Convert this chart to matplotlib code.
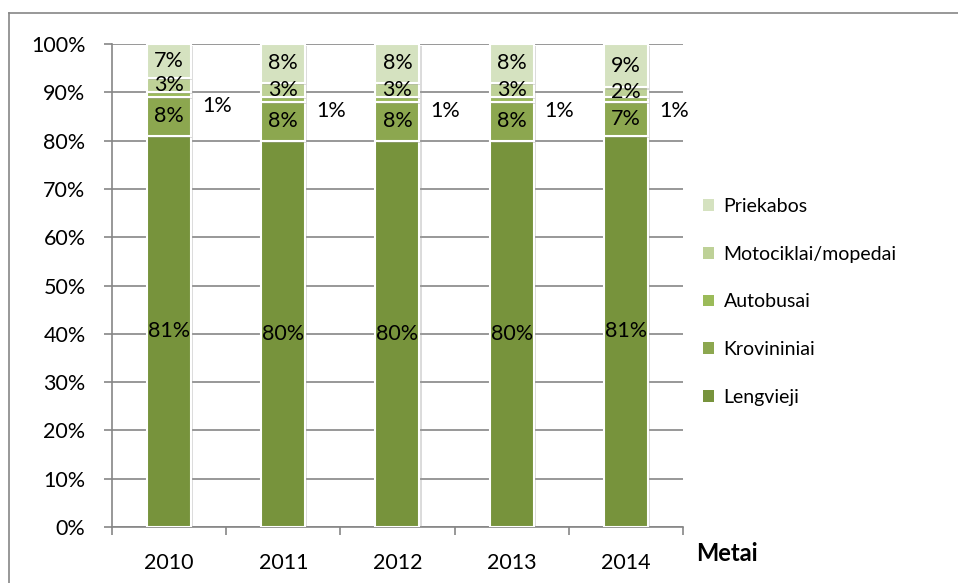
import numpy as np
import matplotlib
matplotlib.use("Agg")
import matplotlib.pyplot as plt
from matplotlib.lines import Line2D
import matplotlib.patheffects as pe

plt.rcParams['font.family'] = ['Lato', 'DejaVu Sans']

# === DUOMENYS ===
metai = ["2010", "2011", "2012", "2013", "2014"]
lengvieji = [81, 80, 80, 80, 81]
krovininiai = [8, 8, 8, 8, 7]
autobusai = [1, 1, 1, 1, 1]
motociklai = [3, 3, 3, 3, 2]
priekabos = [7, 8, 8, 8, 9]

serijos = ["Lengvieji", "Krovininiai", "Autobusai", "Motociklai/mopedai", "Priekabos"]
reiksmes = [lengvieji, krovininiai, autobusai, motociklai, priekabos]
spalvos = ["#77933C", "#8CA74F", "#9BBB59", "#BED197", "#D5E2C0"]

fs = 15.5

fig = plt.figure(figsize=(9.58, 5.83), dpi=100)
ax = fig.add_axes([0.1169, 0.096, 0.596, 0.8285])

x = np.arange(len(metai))
plotis = 0.385
apacia = np.zeros(len(metai))
for pav, val, sp in zip(serijos, reiksmes, spalvos):
    val = np.array(val, dtype=float)
    b = ax.bar(x, val, plotis, bottom=apacia, color=sp, edgecolor="white",
               linewidth=1.5, label=pav, zorder=3)
    for p in b.patches:
        p.set_path_effects([pe.SimplePatchShadow(offset=(1.5, -1.5), shadow_rgbFace="#999999", alpha=0.35),
                            pe.Normal()])
    for i in range(len(metai)):
        vid = apacia[i] + val[i] / 2
        if pav == "Autobusai":
            ax.text(x[i] + 0.42, vid - 2.3, f"{val[i]:.0f}%", ha="center", va="center",
                    fontsize=fs, zorder=4)
        else:
            ax.text(x[i], vid, f"{val[i]:.0f}%", ha="center", va="center",
                    fontsize=fs, zorder=4)
    apacia += val

# === ASYS ===
ax.set_xlim(-0.5, len(metai) - 0.5)
ax.set_ylim(0, 100)
ax.set_yticks(np.arange(0, 101, 10))
ax.set_yticklabels([f"{v}%" for v in range(0, 101, 10)])
ax.set_xticks(x)
ax.set_xticklabels(metai)
ax.set_xticks(np.arange(-0.5, len(metai), 1), minor=True)
ax.tick_params(axis="x", which="major", length=0, pad=19, labelsize=fs)
ax.tick_params(axis="x", which="minor", length=6, color="#868686", width=1.2)
ax.tick_params(axis="y", length=6, color="#868686", width=1.2, pad=13, labelsize=fs)
ax.grid(axis="y", color="#868686", linewidth=1.2, zorder=0)
ax.set_axisbelow(True)
for s in ["top", "right"]:
    ax.spines[s].set_visible(False)
for s in ["left", "bottom"]:
    ax.spines[s].set_color("#868686")
    ax.spines[s].set_linewidth(1.2)

# === LEGENDA ===
h, l = ax.get_legend_handles_labels()
leg = fig.legend(h[::-1], l[::-1], loc="center left", bbox_to_anchor=(0.726, 0.482),
                 frameon=False, fontsize=14, handlelength=0.55, handleheight=0.55,
                 handletextpad=0.5, labelspacing=1.58, borderaxespad=0)
for p in leg.get_patches():
    p.set_path_effects([])
    p.set_edgecolor("none")

fig.text(0.7265, 0.051, "Metai", fontsize=17, fontweight="bold", ha="left", va="center")

# rėmelis
fig.add_artist(Line2D([0.0094, 0.0094], [0, 0.978], color="#868686", linewidth=1.2))
fig.add_artist(Line2D([0.0094, 1.0], [0.978, 0.978], color="#868686", linewidth=1.2))

fig.savefig("out.png", dpi=100)
